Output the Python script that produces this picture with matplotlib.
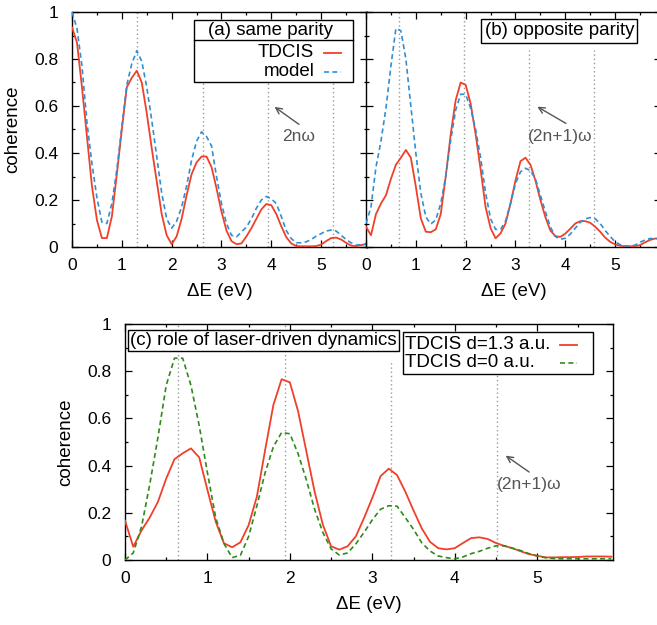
import numpy as np
import matplotlib
matplotlib.use("Agg")
from matplotlib import pyplot as plt
from matplotlib.ticker import MultipleLocator, FormatStrFormatter
from matplotlib.patches import Rectangle

plt.rcParams["font.family"] = ["Liberation Sans", "DejaVu Sans"]

# energy grid (eV), 0.1 eV sampling
energy = np.round(np.arange(0, 5.95, 0.1), 1)

# (a) same parity
tdcis_same = [0.935, 0.87, 0.68, 0.47, 0.26, 0.115, 0.038, 0.038, 0.13, 0.31,
              0.50, 0.68, 0.72, 0.75, 0.70, 0.57, 0.42, 0.28, 0.14, 0.05,
              0.012, 0.045, 0.12, 0.22, 0.31, 0.36, 0.385, 0.385, 0.34, 0.25,
              0.15, 0.07, 0.025, 0.012, 0.015, 0.045, 0.08, 0.12, 0.16, 0.183,
              0.178, 0.14, 0.088, 0.042, 0.015, 0.004, 0.003, 0.003, 0.003, 0.004,
              0.01, 0.025, 0.038, 0.04, 0.032, 0.018, 0.006, 0.003, 0.008, 0.012]
model_same = [1.0, 0.93, 0.77, 0.53, 0.355, 0.21, 0.105, 0.10, 0.185, 0.33,
              0.51, 0.69, 0.78, 0.835, 0.79, 0.68, 0.54, 0.385, 0.23, 0.12,
              0.08, 0.11, 0.17, 0.26, 0.37, 0.45, 0.49, 0.47, 0.43, 0.30,
              0.185, 0.10, 0.05, 0.043, 0.064, 0.085, 0.12, 0.165, 0.20, 0.215,
              0.205, 0.185, 0.13, 0.07, 0.036, 0.018, 0.018, 0.022, 0.032, 0.046,
              0.057, 0.068, 0.072, 0.068, 0.05, 0.032, 0.018, 0.008, 0.01, 0.012]

# (b) opposite parity
tdcis_opp = [0.086, 0.05, 0.14, 0.185, 0.22, 0.29, 0.35, 0.38, 0.413, 0.38,
             0.257, 0.122, 0.065, 0.063, 0.075, 0.14, 0.30, 0.48, 0.625, 0.70,
             0.69, 0.61, 0.48, 0.33, 0.17, 0.08, 0.037, 0.058, 0.10, 0.185,
             0.283, 0.365, 0.38, 0.35, 0.283, 0.20, 0.127, 0.07, 0.046, 0.043,
             0.057, 0.078, 0.10, 0.11, 0.11, 0.103, 0.086, 0.065, 0.04, 0.022,
             0.011, 0.005, 0.003, 0.003, 0.003, 0.008, 0.02, 0.03, 0.036, 0.036]
model_opp = [0.10, 0.17, 0.34, 0.45, 0.59, 0.77, 0.93, 0.92, 0.80, 0.60,
             0.40, 0.23, 0.128, 0.098, 0.115, 0.185, 0.30, 0.455, 0.583, 0.65,
             0.65, 0.59, 0.50, 0.38, 0.23, 0.12, 0.075, 0.075, 0.11, 0.185,
             0.27, 0.32, 0.335, 0.325, 0.29, 0.22, 0.15, 0.085, 0.045, 0.033,
             0.037, 0.055, 0.08, 0.105, 0.12, 0.125, 0.12, 0.10, 0.07, 0.045,
             0.022, 0.01, 0.005, 0.004, 0.008, 0.02, 0.03, 0.036, 0.036, 0.035]

# (c) role of laser-driven dynamics
tdcis_d13 = [0.167, 0.056, 0.125, 0.18, 0.247, 0.345, 0.427, 0.452, 0.473, 0.435,
             0.297, 0.163, 0.071, 0.054, 0.075, 0.148, 0.269, 0.466, 0.657, 0.766,
             0.753, 0.63, 0.46, 0.29, 0.15, 0.058, 0.044, 0.058, 0.10, 0.178,
             0.263, 0.355, 0.387, 0.36, 0.29, 0.21, 0.134, 0.077, 0.05, 0.045,
             0.05, 0.072, 0.093, 0.096, 0.089, 0.072, 0.06, 0.05, 0.037, 0.025,
             0.018, 0.011, 0.011, 0.012, 0.012, 0.013, 0.015, 0.015, 0.015, 0.014]
tdcis_d0 = [0.0, 0.03, 0.14, 0.32, 0.52, 0.74, 0.855, 0.855, 0.74, 0.57,
            0.37, 0.18, 0.07, 0.01, 0.02, 0.10, 0.23, 0.37, 0.48, 0.54,
            0.535, 0.45, 0.34, 0.215, 0.117, 0.047, 0.021, 0.03, 0.068, 0.117,
            0.17, 0.215, 0.23, 0.228, 0.18, 0.13, 0.073, 0.038, 0.017, 0.01,
            0.005, 0.013, 0.027, 0.037, 0.05, 0.06, 0.06, 0.05, 0.04, 0.027,
            0.017, 0.01, 0.006, 0.005, 0.005, 0.005, 0.005, 0.005, 0.005, 0.005]

# harmonic positions (eV) and how high the guide lines reach
harm_a = [1.31, 2.62, 3.93, 5.24]
harm_a_top = [1.0, 0.84, 0.84, 0.84]
harm_b = [0.655, 1.965, 3.275, 4.585]
harm_b_top = [1.0, 1.0, 0.84, 0.84]
harm_c = [0.648, 1.935, 3.225, 4.515]
harm_c_top = [1.0, 1.0, 0.84, 0.84]

RED = "#f0402a"
BLUE = "#2f8fd6"
GREEN = "#2f8a1a"
GUIDE = "#9a9a9a"
NOTE = "#555555"
XMAX = 5.92
KEYFS = 13.5

fig = plt.figure(figsize=(6.57, 6.25), dpi=100)
W, H = 657.0, 625.0
ax_a = fig.add_axes([72 / W, (H - 247) / H, 295 / W, 235 / H])
ax_b = fig.add_axes([366 / W, (H - 247) / H, 295 / W, 235 / H])
ax_c = fig.add_axes([125 / W, (H - 560) / H, 488 / W, 236 / H])


def style(ax, ylabels=True):
    ax.set_xlim(0, XMAX)
    ax.set_ylim(0, 1)
    ax.xaxis.set_major_locator(MultipleLocator(1))
    ax.xaxis.set_minor_locator(MultipleLocator(0.5))
    ax.yaxis.set_major_locator(MultipleLocator(0.2))
    ax.yaxis.set_minor_locator(MultipleLocator(0.1))
    ax.yaxis.set_major_formatter(FormatStrFormatter("%g"))
    ax.tick_params(which="both", direction="in", top=True, right=True,
                   labelsize=12.5, width=0.9)
    ax.tick_params(which="major", length=5)
    ax.tick_params(which="minor", length=2.5)
    ax.tick_params(axis="x", pad=8)
    ax.tick_params(axis="y", pad=10)
    if not ylabels:
        ax.tick_params(axis="y", labelleft=False)
    for s in ax.spines.values():
        s.set_linewidth(1.0)
    ax.set_xlabel("\u0394E (eV)", fontsize=13.5, labelpad=7)


def guides(ax, pos, tops):
    for p, t in zip(pos, tops):
        ax.plot([p, p], [0, t], color=GUIDE, lw=1, ls=(0, (1, 2)), zorder=1)


# ---- (a)
style(ax_a)
ax_a.set_ylabel("coherence", fontsize=13.5, labelpad=9)
guides(ax_a, harm_a, harm_a_top)
ax_a.plot(energy, tdcis_same, color=RED, lw=1.3, zorder=3)
ax_a.plot(energy, model_same, color=BLUE, lw=1.2, ls=(0, (3, 2)), zorder=3)
ax_a.add_patch(Rectangle((2.44, 0.702), 3.205, 0.264, fc="white", ec="black",
                         lw=1, zorder=5))
ax_a.plot([2.44, 5.645], [0.881, 0.881], color="black", lw=1, zorder=6)
ax_a.text(3.98, 0.922, "(a) same parity", ha="center", va="center",
          fontsize=KEYFS, zorder=6)
ax_a.text(4.86, 0.826, "TDCIS", ha="right", va="center", fontsize=KEYFS, zorder=6)
ax_a.text(4.86, 0.745, "model", ha="right", va="center", fontsize=KEYFS, zorder=6)
ax_a.plot([5.06, 5.40], [0.826, 0.826], color=RED, lw=1.3, zorder=6)
ax_a.plot([5.06, 5.40], [0.745, 0.745], color=BLUE, lw=1.2, ls=(0, (3, 2)), zorder=6)
ax_a.annotate("", xy=(4.02, 0.603), xytext=(4.6, 0.515),
              arrowprops=dict(arrowstyle="->", color=NOTE, lw=1, mutation_scale=11))
ax_a.text(4.55, 0.47, "2n\u03c9", color=NOTE, ha="center", va="center", fontsize=12.5)

# ---- (b)
style(ax_b, ylabels=False)
guides(ax_b, harm_b, harm_b_top)
ax_b.plot(energy, tdcis_opp, color=RED, lw=1.3, zorder=3)
ax_b.plot(energy, model_opp, color=BLUE, lw=1.2, ls=(0, (3, 2)), zorder=3)
ax_b.text(3.88, 0.92, "(b) opposite parity", ha="center", va="center", fontsize=KEYFS,
          zorder=6, bbox=dict(boxstyle="square,pad=0.18", fc="white", ec="black", lw=1))
ax_b.annotate("", xy=(3.39, 0.603), xytext=(4.06, 0.52),
              arrowprops=dict(arrowstyle="->", color=NOTE, lw=1, mutation_scale=11))
ax_b.text(3.89, 0.47, "(2n+1)\u03c9", color=NOTE, ha="center", va="center", fontsize=12.5)

# ---- (c)
style(ax_c)
ax_c.set_ylabel("coherence", fontsize=13.5, labelpad=9)
guides(ax_c, harm_c, harm_c_top)
ax_c.plot(energy, tdcis_d13, color=RED, lw=1.3, zorder=3)
ax_c.plot(energy, tdcis_d0, color=GREEN, lw=1.2, ls=(0, (3, 2)), zorder=3)
ax_c.text(1.68, 0.93, "(c) role of laser-driven dynamics", ha="center", va="center",
          fontsize=KEYFS, zorder=6,
          bbox=dict(boxstyle="square,pad=0.1", fc="white", ec="black", lw=1))
ax_c.add_patch(Rectangle((3.37, 0.788), 2.31, 0.179, fc="white", ec="black",
                         lw=1, zorder=5))
ax_c.text(3.40, 0.913, "TDCIS d=1.3 a.u.", ha="left", va="center", fontsize=KEYFS, zorder=6)
ax_c.text(3.40, 0.836, "TDCIS d=0 a.u.", ha="left", va="center", fontsize=KEYFS, zorder=6)
ax_c.plot([5.28, 5.48], [0.913, 0.913], color=RED, lw=1.3, zorder=6)
ax_c.plot([5.28, 5.48], [0.836, 0.836], color=GREEN, lw=1.2, ls=(0, (3, 2)), zorder=6)
ax_c.annotate("", xy=(4.59, 0.449), xytext=(4.93, 0.366),
              arrowprops=dict(arrowstyle="->", color=NOTE, lw=1, mutation_scale=11))
ax_c.text(4.90, 0.318, "(2n+1)\u03c9", color=NOTE, ha="center", va="center", fontsize=12.5)

fig.savefig("out.png", dpi=100)
